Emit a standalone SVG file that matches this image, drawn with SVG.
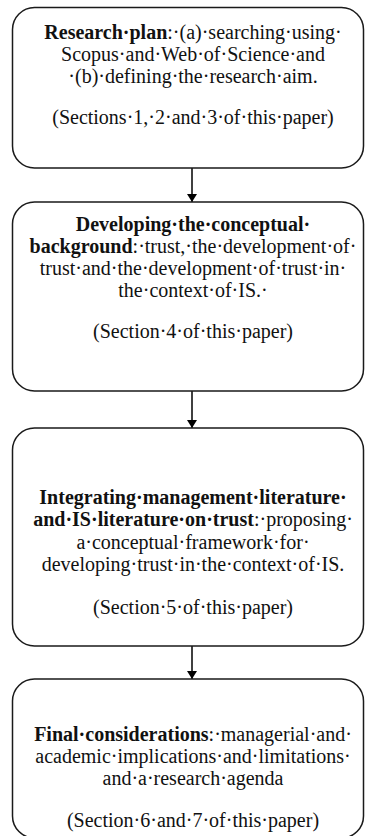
<svg xmlns="http://www.w3.org/2000/svg" width="365" height="836" viewBox="0 0 365 836">
  <style>
    .box { fill: #ffffff; stroke: #1a1a1a; stroke-width: 1.5; }
    .link { stroke: #000000; stroke-width: 1.5; fill: none; }
    text { font-family: "Liberation Serif", "Times New Roman", serif; font-size: 20px; fill: #111111; text-anchor: middle; }
    .b { font-weight: bold; }
  </style>
  <defs>
    <marker id="arrow" viewBox="0 0 8 10" refX="8" refY="5" markerWidth="8" markerHeight="10" markerUnits="userSpaceOnUse" orient="auto">
      <path d="M0,0 L8,5 L0,10 Z" fill="#000000"/>
    </marker>
  </defs>
  <rect width="365" height="836" fill="#ffffff"/>

  <g id="connectors">
    <line class="link" x1="192" y1="168" x2="192" y2="202" marker-end="url(#arrow)"/>
    <line class="link" x1="192" y1="391" x2="192" y2="428" marker-end="url(#arrow)"/>
    <line class="link" x1="192" y1="646" x2="192" y2="679" marker-end="url(#arrow)"/>
  </g>

  <g id="research-plan">
    <rect class="box" x="12.5" y="7.5" width="351" height="160.5" rx="22" ry="22"/>
    <text x="193" y="39"><tspan class="b">Research·plan</tspan>:·(a)·searching·using·</text>
    <text x="193" y="61">Scopus·and·Web·of·Science·and</text>
    <text x="193" y="83">·(b)·defining·the·research·aim.</text>
    <text x="193" y="124">(Sections·1,·2·and·3·of·this·paper)</text>
  </g>

  <g id="conceptual-background">
    <rect class="box" x="12.5" y="202" width="351" height="189" rx="22" ry="22"/>
    <text x="193" y="231"><tspan class="b">Developing·the·conceptual·</tspan></text>
    <text x="193" y="253"><tspan class="b">background</tspan>:·trust,·the·development·of·</text>
    <text x="193" y="275">trust·and·the·development·of·trust·in·</text>
    <text x="193" y="297">the·context·of·IS.·</text>
    <text x="193" y="338">(Section·4·of·this·paper)</text>
  </g>

  <g id="integrating-literature">
    <rect class="box" x="12.5" y="428" width="351" height="218" rx="22" ry="22"/>
    <text x="193" y="504"><tspan class="b">Integrating·management·literature·</tspan></text>
    <text x="193" y="526"><tspan class="b">and·IS·literature·on·trust</tspan>:·proposing·</text>
    <text x="193" y="549">a·conceptual·framework·for·</text>
    <text x="193" y="571">developing·trust·in·the·context·of·IS.</text>
    <text x="193" y="614">(Section·5·of·this·paper)</text>
  </g>

  <g id="final-considerations">
    <rect class="box" x="12.5" y="679" width="351" height="159" rx="22" ry="22"/>
    <text x="193" y="741"><tspan class="b">Final·considerations</tspan>:·managerial·and·</text>
    <text x="193" y="763">academic·implications·and·limitations·</text>
    <text x="193" y="785">and·a·research·agenda</text>
    <text x="193" y="827">(Section·6·and·7·of·this·paper)</text>
  </g>
</svg>
